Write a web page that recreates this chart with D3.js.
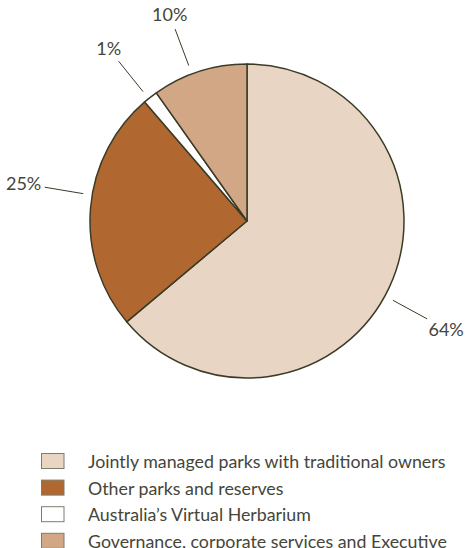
<!DOCTYPE html>
<html>
<head>
<meta charset="utf-8">
<script src="https://cdn.jsdelivr.net/npm/d3@7"></script>
<style>
  body { margin: 0; background: #fff; }
  svg text { font-family: Lato, "Open Sans", sans-serif; fill: #45453a; }
</style>
</head>
<body>
<div id="chart"></div>
<script>
// 数据
const categories = [
    "Jointly managed parks with traditional owners",
    "Other parks and reserves",
    "Australia\u2019s Virtual Herbarium",
    "Governance, corporate services and Executive"
];
const values = [63.9, 24.8, 1.5, 9.8];
const valueLabels = ["64%", "25%", "1%", "10%"];
const colors = ["#e8d5c4", "#b06830", "#ffffff", "#d2a785"];

// 标签相对扇区中线的角度偏移（度）
const labelNudge = [3.5, 4.8, -0.8, -2.9];

const width = 470, height = 548;
const cx = 247, cy = 221, radius = 157;

const svg = d3.select("#chart").append("svg")
    .attr("width", width)
    .attr("height", height);

const g = svg.append("g")
    .attr("transform", `translate(${cx}, ${cy})`);

const pie = d3.pie().sort(null).value(d => d);
const arcs = pie(values);
const arc = d3.arc().innerRadius(0).outerRadius(radius);

g.selectAll("path.slice")
    .data(arcs)
    .enter()
    .append("path")
    .attr("class", "slice")
    .attr("d", arc)
    .attr("fill", (d, i) => colors[i])
    .attr("stroke", "#3b3b28")
    .attr("stroke-width", 1.5)
    .attr("stroke-linejoin", "round");

// 引线和百分比标签
function polar(angle, r) {
    return [Math.sin(angle) * r, -Math.cos(angle) * r];
}
const labelAngle = (d, i) => (d.startAngle + d.endAngle) / 2 + labelNudge[i] * Math.PI / 180;
const lineEnd = radius + 48;

g.selectAll("line.leader")
    .data(arcs)
    .enter()
    .append("line")
    .attr("class", "leader")
    .attr("x1", (d, i) => polar(labelAngle(d, i), radius + 9)[0])
    .attr("y1", (d, i) => polar(labelAngle(d, i), radius + 9)[1])
    .attr("x2", (d, i) => polar(labelAngle(d, i), lineEnd)[0])
    .attr("y2", (d, i) => polar(labelAngle(d, i), lineEnd)[1])
    .attr("stroke", "#3b3b28")
    .attr("stroke-width", 1);

const pct = g.selectAll("text.pct")
    .data(arcs)
    .enter()
    .append("text")
    .attr("class", "pct")
    .attr("dy", "0.35em")
    .attr("text-anchor", "middle")
    .style("font-size", "18px")
    .text((d, i) => valueLabels[i]);

// 文字框边缘贴近引线末端
pct.each(function(d, i) {
    const a = labelAngle(d, i);
    const box = this.getBBox();
    const hw = box.width / 2, hh = 6.5;
    const r = lineEnd + hw * Math.abs(Math.sin(a)) + hh * Math.abs(Math.cos(a)) + 3;
    const p = polar(a, r);
    d3.select(this).attr("x", p[0]).attr("y", p[1]);
});

// 图例
const legend = svg.append("g")
    .attr("transform", "translate(41, 453)");

const rows = legend.selectAll("g.row")
    .data(categories)
    .enter()
    .append("g")
    .attr("class", "row")
    .attr("transform", (d, i) => `translate(0, ${i * 26.6})`);

rows.append("rect")
    .attr("x", 0.5)
    .attr("y", 0.5)
    .attr("width", 22.5)
    .attr("height", 15)
    .attr("fill", (d, i) => colors[i])
    .attr("stroke", "#7d7d6c")
    .attr("stroke-width", 1);

rows.append("text")
    .attr("x", 47)
    .attr("y", 15)
    .style("font-size", "17.8px")
    .text(d => d);
</script>
</body>
</html>
